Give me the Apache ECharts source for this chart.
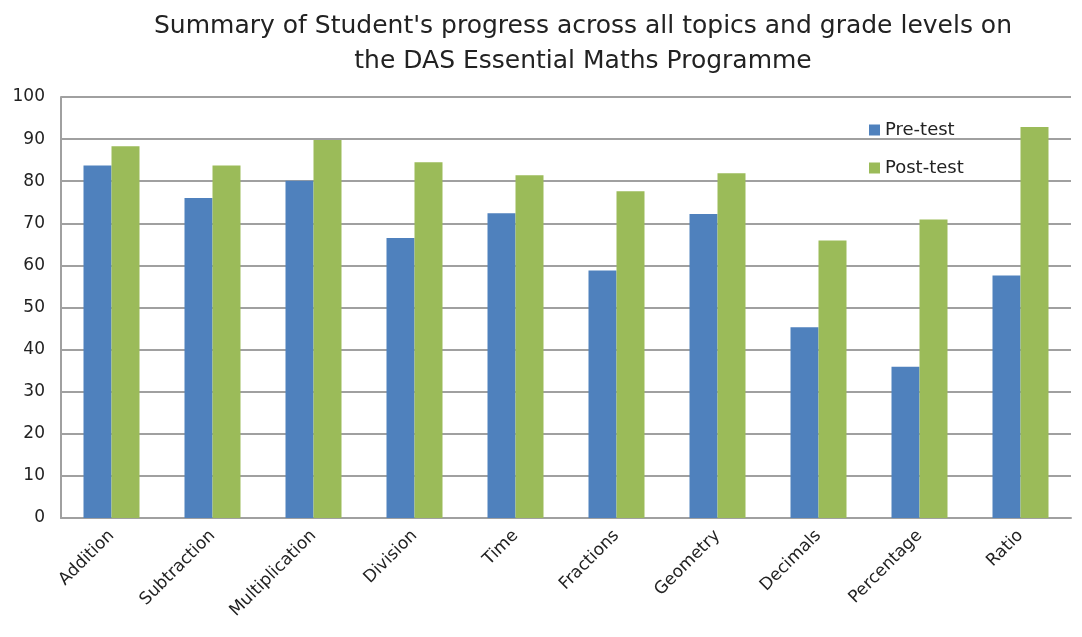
<!DOCTYPE html>
<html><head><meta charset="utf-8">
<script src="https://cdn.jsdelivr.net/npm/echarts@6/dist/echarts.min.js"></script>
<style>html,body{margin:0;padding:0;background:#fff}#c{width:1082px;height:637px}</style>
</head><body><div id="c"></div>
<script>
const categories = ["Addition","Subtraction","Multiplication","Division","Time","Fractions","Geometry","Decimals","Percentage","Ratio"];
const preTest = [83.7, 76.0, 80.1, 66.5, 72.4, 58.8, 72.2, 45.3, 35.9, 57.6];
const postTest = [88.3, 83.7, 89.8, 84.5, 81.4, 77.6, 81.9, 65.9, 70.9, 92.9];
const yTicks = [0,10,20,30,40,50,60,70,80,90,100];

const chart = echarts.init(document.getElementById('c'), null, {renderer:'canvas'});
const font = '"DejaVu Sans", Verdana, sans-serif';
chart.setOption({
  animation:false,
  backgroundColor:'#fff',
  title:{
    text:"Summary of Student's progress across all topics and grade levels on\nthe DAS Essential Maths Programme",
    left:578, textAlign:'center', top:4,
    textStyle:{fontFamily:font, fontSize:25, fontWeight:'normal', color:'#222', lineHeight:35}
  },
  legend:{
    orient:'vertical', left:864, top:116, itemGap:20,
    itemWidth:11, itemHeight:11, icon:'rect',
    textStyle:{fontFamily:font, fontSize:18, color:'#222'},
    data:['Pre-test','Post-test']
  },
  grid:{left:61, right:11, top:97, bottom:119, containLabel:false},
  xAxis:{
    type:'category', data:categories,
    axisLine:{lineStyle:{color:'#a0a0a0', width:2}},
    axisTick:{show:false},
    axisLabel:{rotate:45, fontFamily:font, fontSize:17, color:'#222', margin:15, interval:0}
  },
  yAxis:{
    type:'value', min:0, max:100, interval:10,
    axisLine:{show:true, lineStyle:{color:'#a0a0a0', width:2}},
    axisTick:{show:false},
    axisLabel:{fontFamily:font, fontSize:17, color:'#222', margin:16,
      formatter:function(v){return yTicks.indexOf(v) >= 0 ? String(v) : '';}},
    splitLine:{lineStyle:{color:'#a0a0a0', width:2}}
  },
  series:[
    {name:'Pre-test', type:'bar', data:preTest, barWidth:28, barGap:'0%', itemStyle:{color:'#4f81bd'}},
    {name:'Post-test', type:'bar', data:postTest, barWidth:28, barGap:'0%', itemStyle:{color:'#9bbb59'}}
  ]
});
</script></body></html>
